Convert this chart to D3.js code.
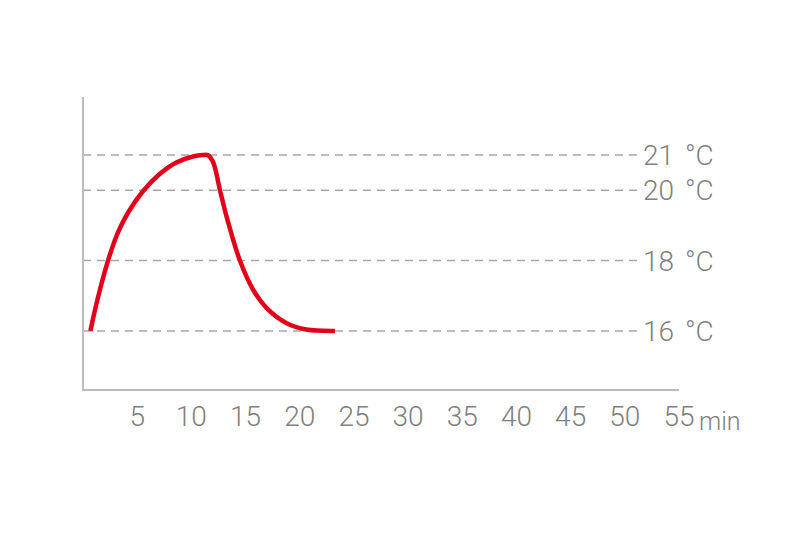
<!DOCTYPE html>
<html><head><meta charset="utf-8">
<script src="https://cdn.jsdelivr.net/npm/d3@7"></script>
<style>body{margin:0;background:#fff}svg{display:block}</style>
</head><body>
<svg id="c" width="800" height="534"></svg>
<script>
const timeMin = [0.68,1.38,2.31,3.23,4.15,5.53,7.07,8.61,10.15,11.1,11.5,12.0,12.64,13.25,14.48,15.7,16.95,18.8,20.6,23.25];
const tempC  = [16,16.95,18,18.8,19.36,19.97,20.46,20.79,20.96,21.0,21.0,20.8,20,19.25,18,17.17,16.65,16.22,16.04,16];
const xTicks = [5,10,15,20,25,30,35,40,45,50,55];
const yTicks = [16,18,20,21];

const svg = d3.select("#c");
const x = d3.scaleLinear().domain([0,55]).range([83,679]);
const y = d3.scaleLinear().domain([14.32,22.65]).range([390,97]);
const font = "Roboto, 'Liberation Sans', sans-serif";

// grid lines
svg.append("g").selectAll("line").data(yTicks).join("line")
  .attr("x1",83).attr("x2",640).attr("y1",d=>y(d)).attr("y2",d=>y(d))
  .attr("stroke","#a8a8a8").attr("stroke-width",1.5).attr("stroke-dasharray","8,6");

// y labels
svg.append("g").selectAll("text").data(yTicks).join("text")
  .attr("x",643).attr("y",d=>y(d)).attr("dy","0.36em")
  .attr("font-family",font).attr("font-weight",300).attr("font-size",28).attr("fill","#808080")
  .attr("word-spacing",4)
  .text(d=>d+" °C");

// axes
svg.append("line").attr("x1",83).attr("x2",83).attr("y1",97).attr("y2",391)
  .attr("stroke","#bdbdbd").attr("stroke-width",2);
svg.append("line").attr("x1",82).attr("x2",679).attr("y1",390).attr("y2",390)
  .attr("stroke","#bdbdbd").attr("stroke-width",2);

// x labels
svg.append("g").selectAll("text").data(xTicks).join("text")
  .attr("x",d=>x(d)).attr("y",426).attr("text-anchor","middle")
  .attr("font-family",font).attr("font-weight",300).attr("font-size",28).attr("fill","#808080")
  .text(d=>d);
svg.append("text").attr("x",699).attr("y",430)
  .attr("font-family",font).attr("font-weight",300).attr("font-size",25).attr("fill","#808080")
  .text("min");

// curve
const pts = timeMin.map((t,i)=>[t,tempC[i]]);
svg.append("path").datum(pts)
  .attr("d", d3.line().x(d=>x(d[0])).y(d=>y(d[1])).curve(d3.curveCatmullRom.alpha(0.5)))
  .attr("fill","none").attr("stroke","#e2001a").attr("stroke-width",4.5)
  .attr("stroke-linejoin","round").attr("stroke-linecap","butt");
</script>
</body></html>
